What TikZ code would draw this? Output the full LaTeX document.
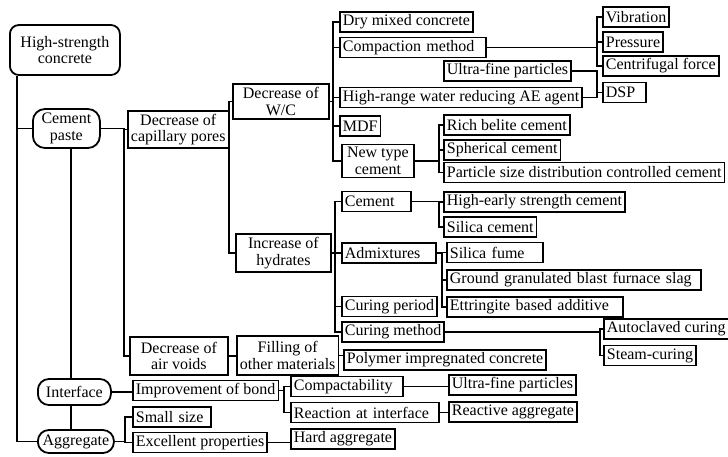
\documentclass[tikz,border=0pt]{standalone}
\usepackage{fontspec}
\newfontfamily\diagfont{Liberation Serif}
\usetikzlibrary{positioning}

\begin{document}
\begin{tikzpicture}[x=1pt, y=-1pt,
    box/.style={draw, line width=1.8pt, anchor=west, inner xsep=3pt,
      inner ysep=1pt, minimum height=20pt,
      font=\diagfont\fontsize{16}{16.5}\selectfont},
    twoline/.style={box, align=center},
    widebox/.style={box, text width=#1, align=left},
    pill/.style={box, rounded corners=11pt},
    conn/.style={line width=1.5pt}]
  \useasboundingbox (0,0) rectangle (728,456);
  % x positions of the vertical bus lines
  \coordinate (b0) at (17,0);
  \coordinate (b1) at (124,0);
  \coordinate (b2) at (229,0);
  \coordinate (b3) at (333,0);
  \coordinate (b4) at (335,0);
  \coordinate (b5) at (439,0);
  \coordinate (b6) at (442,0);
  \coordinate (b7) at (597,0);
  \coordinate (b8) at (600,0);
  \coordinate (b9) at (284,0);
  \coordinate (b10) at (125,0);
  \coordinate (b11) at (71,0);

  % main branches
  \node[box, rounded corners=9pt, align=center, minimum width=110pt,
    minimum height=50pt] (hsc) at (9,50) {High-strength\\concrete};
  \node[box, rounded corners=12pt, align=center, minimum width=67pt,
    minimum height=39pt] (paste) at (32,128.5) {Cement\\paste};
  \node[pill, minimum width=73pt, minimum height=26pt] (iface) at (37,392) {Interface};
  \node[pill, minimum width=76pt, minimum height=23pt] (aggr) at (37,441.5) {Aggregate};

  % cement paste
  \node[twoline, minimum width=97pt, minimum height=37pt] (capil) at (127,129.5)
    {Decrease of\\capillary pores};
  \node[twoline, minimum width=98pt, minimum height=38pt] (voids) at (129,356)
    {Decrease of\\air voids};
  \node[twoline, minimum width=96pt, minimum height=35pt] (wc) at (232,101.5)
    {Decrease of\\W/C};
  \node[twoline, minimum width=95pt, minimum height=38pt] (hydr) at (235,253)
    {Increase of\\hydrates};
  \node[twoline, minimum width=97pt, minimum height=39pt] (filling) at (236,355.5)
    {Filling of\\other materials};

  % decrease of W/C
  \node[box] (dry) at (339,22) {Dry mixed concrete};
  \node[widebox=140pt] (compact) at (339,47.5) {Compaction method};
  \node[box] (ultra) at (443,71) {Ultra-fine particles};
  \node[box] (hrwr) at (339,97.5) {High-range water reducing AE agent};
  \node[box] (mdf) at (339,126) {MDF};
  \node[twoline, minimum width=72pt, minimum height=33pt] (newtype) at (341,161)
    {New type\\cement};
  \node[box] (belite) at (443,125) {Rich belite cement};
  \node[box] (spher) at (443,150) {Spherical cement};
  \node[box] (psd) at (443,172.5) {Particle size distribution controlled cement};
  \node[box] (vib) at (602,17) {Vibration};
  \node[box] (press) at (602,42) {Pressure};
  \node[box] (centri) at (602,66) {Centrifugal force};
  \node[widebox=37pt] (dsp) at (602,92.5) {DSP};

  % increase of hydrates
  \node[widebox=63pt] (cem) at (341,201.5) {Cement};
  \node[box] (hec) at (443,202) {High-early strength cement};
  \node[box] (silcem) at (443,227) {Silica cement};
  \node[widebox=88pt] (admix) at (341,253) {Admixtures};
  \node[widebox=90pt] (sfume) at (446,252.5) {Silica fume};
  \node[widebox=248pt] (ggbs) at (446,280) {Ground granulated blast furnace slag};
  \node[widebox=170pt] (ettr) at (446,307) {Ettringite based additive};
  \node[box] (cperiod) at (341,306.5) {Curing period};
  \node[box] (cmethod) at (341,332) {Curing method};
  \node[box] (autocl) at (603,329) {Autoclaved curing};
  \node[box] (steam) at (603,355.5) {Steam-curing};
  \node[box] (polymer) at (343,360) {Polymer impregnated concrete};

  % interface and aggregate
  \node[box] (bond) at (132,390.5) {Improvement of bond};
  \node[widebox=106pt] (compa) at (290,386.5) {Compactability};
  \node[widebox=142pt] (react) at (290,412.5) {Reaction at interface};
  \node[box] (ultra2) at (448,385) {Ultra-fine particles};
  \node[box] (reagg) at (448,412) {Reactive aggregate};
  \node[widebox=72pt] (small) at (132,417) {Small size};
  \node[box] (excel) at (132,442.5) {Excellent properties};
  \node[box] (hard) at (290,439) {Hard aggregate};

  % connectors
  \draw[conn] (b0 |- hsc.south) |- (paste.west);
  \draw[conn] (b0 |- hsc.south) |- (aggr.west);
  \draw[conn] (b11 |- paste.south) -- (b11 |- iface.north);
  \draw[conn] (b11 |- iface.south) -- (b11 |- aggr.north);
  \draw[conn] (paste.east) -| (b1 |- capil.west) -- (capil.west);
  \draw[conn] (paste.east) -| (b1 |- voids.west) -- (voids.west);
  \draw[conn] (capil.east) -| (b2 |- wc.west) -- (wc.west);
  \draw[conn] (capil.east) -| (b2 |- hydr.west) -- (hydr.west);
  \draw[conn] (voids.east) -- (voids.east -| filling.west);
  \draw[conn] (filling.east) -- (filling.east -| polymer.west);

  \draw[conn] (wc.east) -| (b3 |- dry.west) -- (dry.west);
  \draw[conn] (wc.east) -| (b3 |- compact.west) -- (compact.west);
  \draw[conn] (wc.east) -| (b3 |- hrwr.west) -- (hrwr.west);
  \draw[conn] (wc.east) -| (b3 |- mdf.west) -- (mdf.west);
  \draw[conn] (wc.east) -| (b3 |- newtype.west) -- (newtype.west);
  \draw[conn] (compact.east) -| (b7 |- vib.west) -- (vib.west);
  \draw[conn] (compact.east) -| (b7 |- press.west) -- (press.west);
  \draw[conn] (compact.east) -| (b7 |- centri.west) -- (centri.west);
  \draw[conn] (ultra.east) -| (b7 |- dsp.west) -- (dsp.west);
  \draw[conn] (hrwr.east) -| (b7 |- dsp.west) -- (dsp.west);
  \draw[conn] (newtype.east) -| (b5 |- belite.west) -- (belite.west);
  \draw[conn] (newtype.east) -| (b5 |- spher.west) -- (spher.west);
  \draw[conn] (newtype.east) -| (b5 |- psd.west) -- (psd.west);

  \draw[conn] (hydr.east) -| (b4 |- cem.west) -- (cem.west);
  \draw[conn] (hydr.east) -| (b4 |- admix.west) -- (admix.west);
  \draw[conn] (hydr.east) -| (b4 |- cperiod.west) -- (cperiod.west);
  \draw[conn] (hydr.east) -| (b4 |- cmethod.west) -- (cmethod.west);
  \draw[conn] (cem.east) -| (b5 |- hec.west) -- (hec.west);
  \draw[conn] (cem.east) -| (b5 |- silcem.west) -- (silcem.west);
  \draw[conn] (admix.east) -| (b6 |- sfume.west) -- (sfume.west);
  \draw[conn] (admix.east) -| (b6 |- ggbs.west) -- (ggbs.west);
  \draw[conn] (admix.east) -| (b6 |- ettr.west) -- (ettr.west);
  \draw[conn] (cmethod.east) -| (b8 |- autocl.west) -- (autocl.west);
  \draw[conn] (cmethod.east) -| (b8 |- steam.west) -- (steam.west);

  \draw[conn] (iface.east) -- (iface.east -| bond.west);
  \draw[conn] (bond.east) -| (b9 |- compa.west) -- (compa.west);
  \draw[conn] (bond.east) -| (b9 |- react.west) -- (react.west);
  \draw[conn] (compa.east) -- (compa.east -| ultra2.west);
  \draw[conn] (react.east) -- (react.east -| reagg.west);
  \draw[conn] (aggr.east) -| (b10 |- small.west) -- (small.west);
  \draw[conn] (aggr.east) -| (b10 |- excel.west) -- (excel.west);
  \draw[conn] (excel.east) -- (excel.east -| hard.west);
\end{tikzpicture}
\end{document}
